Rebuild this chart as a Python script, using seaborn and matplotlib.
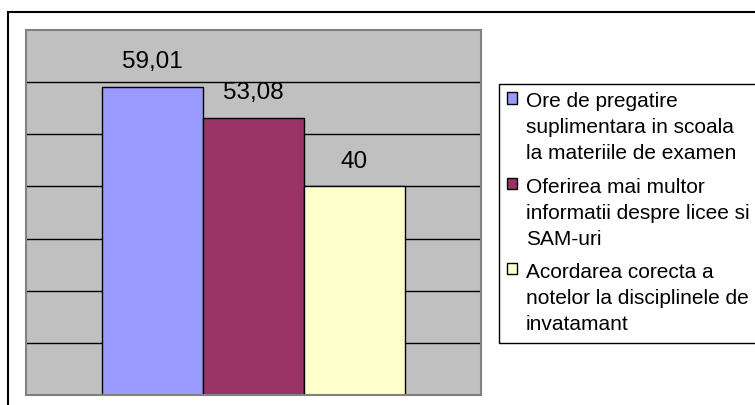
import matplotlib
matplotlib.use('Agg')
import matplotlib.pyplot as plt
import matplotlib.patches as mpatches
import seaborn as sns
import pandas as pd

# date din grafic
categorii = [
    'Ore de pregatire\nsuplimentara in scoala\nla materiile de examen',
    'Oferirea mai multor\ninformatii despre licee si\nSAM-uri',
    'Acordarea corecta a\nnotelor la disciplinele de\ninvatamant',
]
valori = [59.01, 53.08, 40]
etichete = ['59,01', '53,08', '40']
culori = ['#9999FF', '#993366', '#FFFFCC']

plt.rcParams['font.family'] = ['Liberation Sans', 'DejaVu Sans']

dados = pd.DataFrame({'grup': [''] * len(valori), 'categorie': categorii, 'valoare': valori})

fig = plt.figure(figsize=(7.55, 4.05), dpi=100)
ax = fig.add_axes([26 / 755, 1 - 395 / 405, 455 / 755, 365 / 405])

sns.barplot(data=dados, x='grup', y='valoare', hue='categorie', hue_order=categorii,
            palette=culori, saturation=1, width=0.666,
            edgecolor='black', linewidth=1, ax=ax)

ax.set_facecolor('#C0C0C0')
ax.set_ylim(0, 70)
ax.set_xlim(-0.5, 0.5)
ax.set_yticks([10, 20, 30, 40, 50, 60])
ax.yaxis.grid(True, color='black', linewidth=1)
ax.set_axisbelow(True)
ax.tick_params(left=False, bottom=False, labelleft=False, labelbottom=False)
ax.set_xlabel('')
ax.set_ylabel('')
for s in ax.spines.values():
    s.set_color('#808080')
    s.set_linewidth(1.5)

for cont, et in zip(ax.containers, etichete):
    ax.bar_label(cont, labels=[et], padding=10, fontsize=17.5)

sns.move_legend(ax, 'upper left', bbox_to_anchor=(499 / 755, 1 - 84 / 405),
                bbox_transform=fig.transFigure, title=None, frameon=True,
                fontsize=15, handlelength=0.45, handleheight=0.45,
                handletextpad=0.45, borderpad=0.4, labelspacing=0.69,
                fancybox=False, edgecolor='black', framealpha=1, borderaxespad=0)
leg = ax.get_legend()
leg.get_frame().set_linewidth(1)
for t in leg.get_texts():
    t.set_linespacing(1.47)
# patratelele aliniate cu primul rand din text
for col in leg._legend_handle_box.get_children():
    for item in col.get_children():
        item.align = 'top'

# chenar exterior
fig.patches.append(mpatches.Rectangle((8 / 755, -0.05), 1.0, 1 - 12 / 405 + 0.05,
                                      transform=fig.transFigure, fill=False,
                                      edgecolor='black', linewidth=1.5))

fig.savefig('out.png', dpi=100)
